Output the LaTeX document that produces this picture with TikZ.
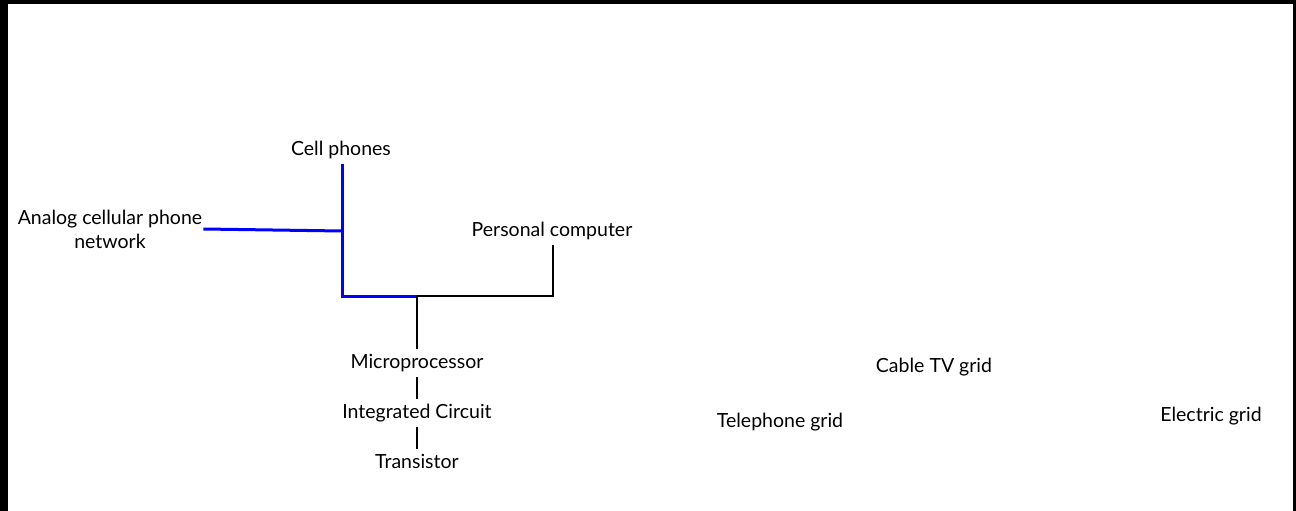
\documentclass[tikz,border=0pt]{standalone}
\usepackage{fontspec}
\setmainfont{Lato}
\begin{document}
\begin{tikzpicture}[x=1pt,y=-1pt,
  lbl/.style={inner xsep=0pt, inner ysep=5pt, align=center, font=\fontsize{19.5}{24}\selectfont},
  blueline/.style={draw=blue, line width=3pt},
  blackline/.style={draw=black, line width=1.5pt}]
  % canvas and frame
  \useasboundingbox (0,0) rectangle (1296,511);
  \fill[white] (0,0) rectangle (1296,511);
  \fill[black] (0,0) rectangle (8,511);
  \fill[black] (0,0) rectangle (1296,4);
  \fill[black] (1293,0) rectangle (1296,511);

  % labels
  \node[lbl] (cell) at (341,150) {Cell phones};
  \node[lbl, inner xsep=1pt] (analog) at (110,229) {Analog cellular phone\\network};
  \node[lbl] (pc) at (552,231) {Personal computer};
  \node[lbl] (micro) at (417,363) {Microprocessor};
  \node[lbl] (ic) at (417,413) {Integrated Circuit};
  \node[lbl] (tr) at (417,461) {Transistor};
  \node[lbl] (cable) at (934,367) {Cable TV grid};
  \node[lbl] (tel) at (780,422) {Telephone grid};
  \node[lbl] (elec) at (1211,416) {Electric grid};

  % junctions
  \coordinate (j1) at (342,231);
  \coordinate (j2) at (342,296);
  \coordinate (j3) at (417,296);
  \coordinate (j4) at (553,296);

  % cellular branch
  \draw[blueline] (analog.east) -- (j1);
  \draw[blueline, line join=miter] (cell.south -| j1) -- (j2) -- (j3);

  % computing branch
  \draw[blackline] (j3) -- (j4) -- (pc.south -| j4);
  \draw[blackline] (j3) -- (micro.north);
  \draw[blackline] (micro.south) -- (ic.north);
  \draw[blackline] (ic.south) -- (tr.north);
\end{tikzpicture}
\end{document}
